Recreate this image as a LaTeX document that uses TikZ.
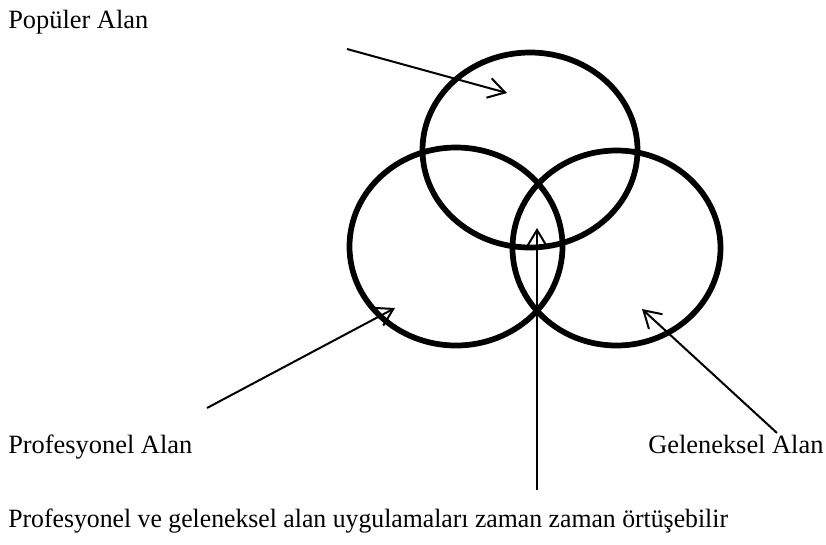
\documentclass[tikz,border=0pt]{standalone}
\usepackage{fontspec}
\setmainfont{Liberation Serif}
\usetikzlibrary{shapes.geometric,arrows.meta}
\begin{document}
\begin{tikzpicture}[x=0.75pt,y=-0.75pt,
  ring/.style={draw,ellipse,line width=4.3pt,inner sep=0pt,outer sep=0pt},
  lbl/.style={anchor=base west,inner sep=0pt,font=\fontsize{19.8}{24}\selectfont},
  pointer/.style={line width=1.5pt,-{Straight Barb[length=12.5pt,width=15pt,line width=1.5pt]}}]
\useasboundingbox (0,0) rectangle (826,544);
\node[ring,minimum width=161.25pt,minimum height=146.25pt] (top) at (530,150) {};
\node[ring,minimum width=159.75pt,minimum height=148.5pt] (left) at (456,246.5) {};
\node[ring,minimum width=156pt,minimum height=146.25pt] (right) at (616.5,248) {};
\node[lbl] (populer) at (8,28) {Popüler Alan};
\node[lbl] (prof) at (8,453) {Profesyonel Alan};
\node[lbl] (gel) at (648,453) {Geleneksel Alan};
\node[lbl,xscale=0.975] (ortu) at (8,527) {Profesyonel ve geleneksel alan uygulamaları zaman zaman örtüşebilir};
\coordinate (t1) at (347,49);  \coordinate (h1) at (507,93);
\coordinate (t2) at (207,408); \coordinate (h2) at (395,308);
\coordinate (t3) at (537,490); \coordinate (h3) at (537,228);
\coordinate (t4) at (777,433); \coordinate (h4) at (642,309);
\draw[pointer] (t1) -- (h1);
\draw[pointer] (t2) -- (h2);
\draw[pointer] (t3) -- (h3);
\draw[pointer] (t4) -- (h4);
\end{tikzpicture}
\end{document}
